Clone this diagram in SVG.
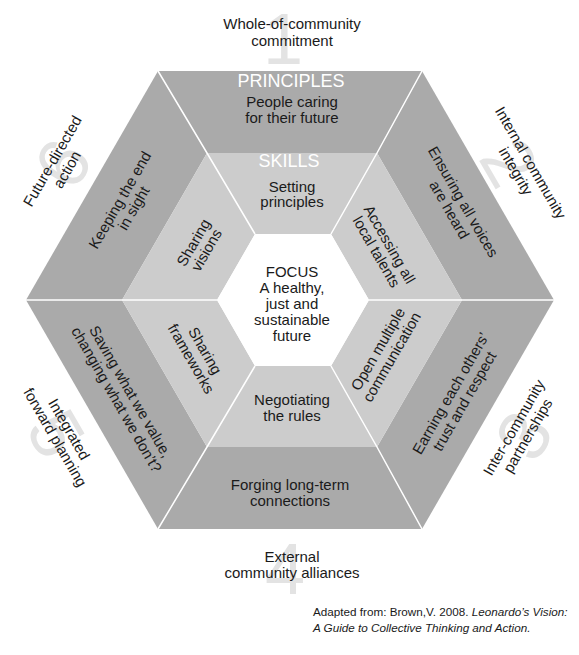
<svg xmlns="http://www.w3.org/2000/svg" width="579" height="655" viewBox="0 0 579 655">
<style>
.outer{fill:#aaaaaa}
.mid{fill:#cccccc}
.focus{fill:#ffffff}
.t{font-family:"Liberation Sans",Arial,sans-serif;font-size:15px;fill:#1a1a1a;text-anchor:middle}
.h{font-family:"Liberation Sans",Arial,sans-serif;font-size:18px;fill:#ffffff;text-anchor:middle}
.d{font-family:"Liberation Sans",Arial,sans-serif;font-size:72px;fill:#e3e3e3;text-anchor:middle}
.c{font-family:"Liberation Sans",Arial,sans-serif;font-size:11.7px;fill:#1a1a1a}
.div{fill:none;stroke:#ffffff;stroke-width:1.5}
</style>
<rect width="579" height="655" fill="#ffffff"/>

<g id="numbers">
<text class="d" x="283" y="64">1</text>
<text class="d" x="510" y="188" transform="rotate(60 510 162)">2</text>
<text class="d" x="523" y="461" transform="rotate(-60 523 435)">3</text>
<text class="d" x="285" y="594">4</text>
<text class="d" x="57" y="459" transform="rotate(60 57 433)">5</text>
<text class="d" x="62" y="189" transform="rotate(-60 62 163)">6</text>
</g>

<g id="outside-labels">
<g id="label-1"><text class="t" x="292" y="29">Whole-of-community<tspan x="292" dy="17">commitment</tspan></text></g>
<g id="label-2" transform="rotate(60 291 300)"><text class="t" x="292" y="29">Internal community<tspan x="292" dy="17">integrity</tspan></text></g>
<g id="label-3" transform="rotate(-60 291 300)"><text class="t" x="292" y="562">Inter-community<tspan x="292" dy="16">partnerships</tspan></text></g>
<g id="label-4"><text class="t" x="292" y="562">External<tspan x="292" dy="16">community alliances</tspan></text></g>
<g id="label-5" transform="rotate(60 291 300)"><text class="t" x="292" y="562">Integrated<tspan x="292" dy="16">forward planning</tspan></text></g>
<g id="label-6" transform="rotate(-60 291 300)"><text class="t" x="292" y="29">Future-directed<tspan x="292" dy="17">action</tspan></text></g>
</g>

<g id="principles-top">
<polygon class="outer" points="158,71 422,71 377,153 207,153"/>
<text class="h" x="291" y="87">PRINCIPLES</text>
<text class="t" x="292" y="107">People caring<tspan x="292" dy="16">for their future</tspan></text>
</g>
<g id="principles-top-right">
<polygon class="outer" points="422,71 554,300 462,300 377,153"/>
<text class="t" x="292" y="107" transform="rotate(60 291 300)">Ensuring all voices<tspan x="292" dy="16">are heard</tspan></text>
</g>
<g id="principles-bottom-right">
<polygon class="outer" points="554,300 422,529 377,447 462,300"/>
<text class="t" x="290" y="490" transform="rotate(-60 291 300)">Earning each others’<tspan x="290" dy="16">trust and respect</tspan></text>
</g>
<g id="principles-bottom">
<polygon class="outer" points="422,529 158,529 207,447 377,447"/>
<text class="t" x="290" y="490">Forging long-term<tspan x="290" dy="16">connections</tspan></text>
</g>
<g id="principles-bottom-left">
<polygon class="outer" points="158,529 26,300 122,300 207,447"/>
<text class="t" x="290" y="490" transform="rotate(60 291 300)">Saving what we value,<tspan x="290" dy="16">changing what we don’t?</tspan></text>
</g>
<g id="principles-top-left">
<polygon class="outer" points="26,300 158,71 207,153 122,300"/>
<text class="t" x="292" y="107" transform="rotate(-60 291 300)">Keeping the end<tspan x="292" dy="16">in sight</tspan></text>
</g>

<g id="skills-top">
<polygon class="mid" points="207,153 377,153 331,234 255,234"/>
<text class="h" x="289" y="167">SKILLS</text>
<text class="t" x="292" y="192">Setting<tspan x="292" dy="15">principles</tspan></text>
</g>
<g id="skills-top-right">
<polygon class="mid" points="377,153 462,300 369,300 331,234"/>
<text class="t" x="292" y="192" transform="rotate(60 291 300)">Accessing all<tspan x="292" dy="15">local talents</tspan></text>
</g>
<g id="skills-bottom-right">
<polygon class="mid" points="462,300 377,447 331,366 369,300"/>
<text class="t" x="292" y="405" transform="rotate(-60 291 300)">Open multiple<tspan x="292" dy="16">communication</tspan></text>
</g>
<g id="skills-bottom">
<polygon class="mid" points="377,447 207,447 255,366 331,366"/>
<text class="t" x="292" y="405">Negotiating<tspan x="292" dy="16">the rules</tspan></text>
</g>
<g id="skills-bottom-left">
<polygon class="mid" points="207,447 122,300 217,300 255,366"/>
<text class="t" x="292" y="405" transform="rotate(60 291 300)">Sharing<tspan x="292" dy="16">frameworks</tspan></text>
</g>
<g id="skills-top-left">
<polygon class="mid" points="122,300 207,153 255,234 217,300"/>
<text class="t" x="292" y="192" transform="rotate(-60 291 300)">Sharing<tspan x="292" dy="15">visions</tspan></text>
</g>

<g id="focus">
<polygon class="focus" points="217,300 255,234 331,234 369,300 331,366 255,366"/>
<text class="t" x="292" y="277">FOCUS<tspan x="292" dy="16">A healthy,</tspan><tspan x="292" dy="16">just and</tspan><tspan x="292" dy="16">sustainable</tspan><tspan x="292" dy="16">future</tspan></text>
</g>

<g id="connectors">
<polyline class="div" points="158,71 207,153 255,234"/>
<polyline class="div" points="422,71 377,153 331,234"/>
<polyline class="div" points="554,300 462,300 369,300"/>
<polyline class="div" points="422,529 377,447 331,366"/>
<polyline class="div" points="158,529 207,447 255,366"/>
<polyline class="div" points="26,300 122,300 217,300"/>
</g>

<g id="citation">
<text class="c" x="313" y="616">Adapted from: Brown,V. 2008. <tspan font-style="italic">Leonardo’s Vision:</tspan></text>
<text class="c" x="313" y="632" font-style="italic">A Guide to Collective Thinking and Action.</text>
</g>
</svg>
